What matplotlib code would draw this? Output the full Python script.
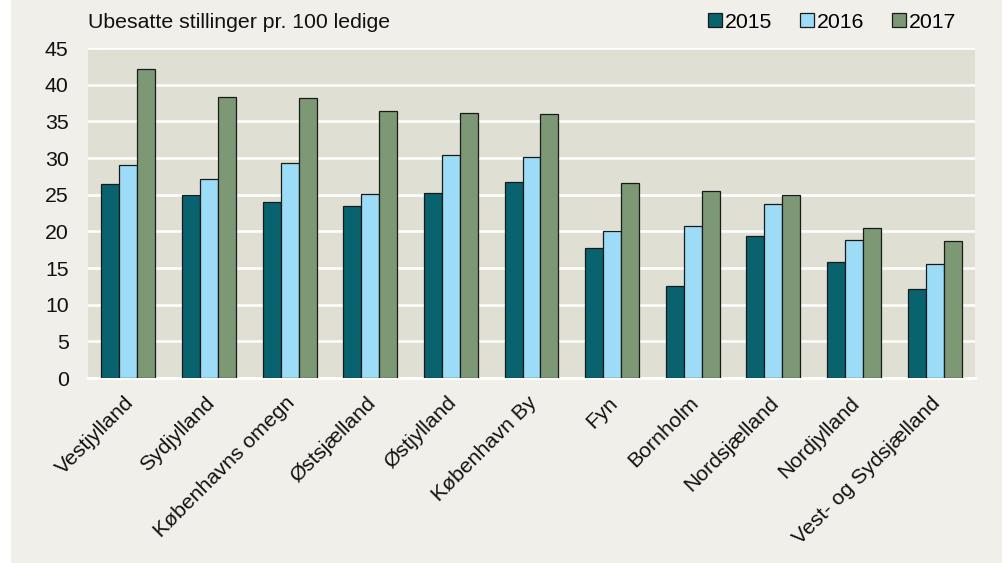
import matplotlib
matplotlib.use("Agg")
import matplotlib.pyplot as plt
import numpy as np

categories = ["Vestjylland", "Sydjylland", "Københavns omegn", "Østsjælland", "Østjylland",
              "København By", "Fyn", "Bornholm", "Nordsjælland", "Nordjylland",
              "Vest- og Sydsjælland"]
years = ["2015", "2016", "2017"]
v2015 = [26.5, 25.0, 24.0, 23.4, 25.2, 26.7, 17.7, 12.5, 19.4, 15.8, 12.2]
v2016 = [29.1, 27.2, 29.3, 25.1, 30.4, 30.1, 20.1, 20.7, 23.7, 18.8, 15.5]
v2017 = [42.2, 38.3, 38.2, 36.4, 36.2, 36.0, 26.6, 25.5, 24.9, 20.5, 18.7]
yticks = [0, 5, 10, 15, 20, 25, 30, 35, 40, 45]
title = "Ubesatte stillinger pr. 100 ledige"

colors = ["#08636f", "#9ddcf7", "#7d9874"]
plt.rcParams['font.family'] = ['Liberation Sans', 'DejaVu Sans']

W, H = 1008, 563
fig = plt.figure(figsize=(W / 100, H / 100), dpi=100, facecolor="white")
bg = fig.add_axes([11 / W, 0, (1002 - 11) / W, 1], zorder=-1)
bg.set_facecolor("#f0efe9")
bg.set_xticks([]); bg.set_yticks([])
for s in bg.spines.values():
    s.set_visible(False)

ax = fig.add_axes([88 / W, 1 - 378 / H, (975 - 88) / W, (378 - 48) / H], zorder=1)
ax.set_facecolor("#e0dfd4")
x = np.arange(len(categories))
bw = 0.223
for i, (vals, c, lab) in enumerate(zip([v2015, v2016, v2017], colors, years)):
    ax.bar(x + (i - 1) * bw, vals, width=bw, color=c, edgecolor="#1a1a1a", linewidth=0.9,
           label=lab, zorder=3)

ax.set_xlim(-0.5, len(categories) - 0.5)
ax.set_ylim(0, 45)
ax.set_yticks(yticks)
ax.yaxis.grid(True, color="white", linewidth=1.8, zorder=1)
ax.set_axisbelow(True)
for s in ["top", "right", "left"]:
    ax.spines[s].set_visible(False)
ax.spines["bottom"].set_color("white")
ax.spines["bottom"].set_linewidth(2)
ax.tick_params(axis="both", length=0, labelsize=15.3, colors="#111111")
ax.tick_params(axis="y", pad=14)
ax.set_xticks(x - 0.05)
ax.set_xticklabels(categories, rotation=45, ha="right", va="top", rotation_mode="anchor")
ax.tick_params(axis="x", pad=11)

fig.text(88 / W, 1 - 23 / H, title, fontsize=15.3, ha="left", va="center", color="#111111")

leg = fig.legend(loc="center right", bbox_to_anchor=(967 / W, 1 - 22 / H), ncol=3, frameon=False,
                 fontsize=15.3, handlelength=0.65, handleheight=0.65, handletextpad=0.15,
                 columnspacing=1.3, borderpad=0)

fig.savefig("out.png", dpi=100, facecolor=fig.get_facecolor())
